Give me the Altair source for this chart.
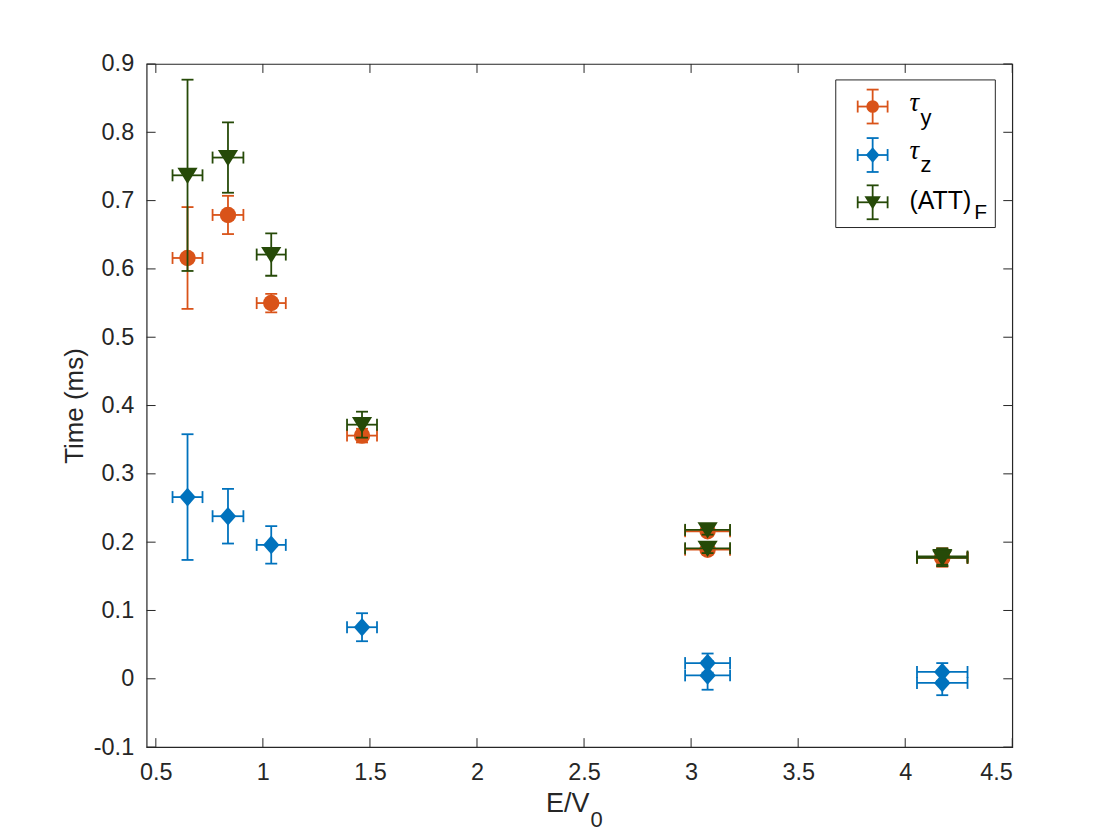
import altair as alt
import pandas as pd

# ---------------- data ----------------
x_vals = [0.648, 0.837, 1.039, 1.463, 3.077, 3.077, 4.173, 4.173]
x_err = [0.070, 0.072, 0.068, 0.070, 0.105, 0.105, 0.118, 0.118]

tau_y = [0.616, 0.679, 0.550, 0.356, 0.216, 0.189, 0.177, 0.178]
tau_y_err = [0.0745, 0.028, 0.0135, 0.010, 0.006, 0.006, 0.013, 0.013]

tau_z = [0.266, 0.238, 0.196, 0.0755, 0.023, 0.005, 0.010, -0.006]
tau_z_err = [0.092, 0.040, 0.0275, 0.0205, 0.014, 0.021, 0.013, 0.018]

att_f = [0.737, 0.763, 0.621, 0.372, 0.218, 0.191, 0.179, 0.177]
att_f_err = [0.140, 0.0515, 0.031, 0.019, 0.007, 0.007, 0.012, 0.012]

x_ticks = [0.5, 1, 1.5, 2, 2.5, 3, 3.5, 4, 4.5]
y_ticks = [-0.1, 0, 0.1, 0.2, 0.3, 0.4, 0.5, 0.6, 0.7, 0.8, 0.9]
x_domain = [0.457, 4.5]
y_domain = [-0.1, 0.9]

# ---------------- styling ----------------
W, H = 868, 685
AX = "#262626"
FONT = "Liberation Sans"
C_Y = "#D95319"
C_Z = "#0072BD"
C_F = "#264A08"
LW = 1.8
CAP = 12
DIAMOND = "M0,-1L0.88,0L0,1L-0.88,0Z"
TRI_DOWN = "M-1,-0.75L1,-0.75L0,0.85Z"


def frame(y, err):
    return pd.DataFrame({
        "x": x_vals,
        "y": y,
        "ylo": [a - b for a, b in zip(y, err)],
        "yhi": [a + b for a, b in zip(y, err)],
        "xlo": [a - b for a, b in zip(x_vals, x_err)],
        "xhi": [a + b for a, b in zip(x_vals, x_err)],
    })


xs = alt.Scale(domain=x_domain, nice=False, zero=False)
ys = alt.Scale(domain=y_domain, nice=False, zero=False)
label_expr = "datum.value < 0 ? '-' + format(-datum.value, '~g') : format(datum.value, '~g')"
xax = alt.Axis(values=x_ticks, labelExpr=label_expr, title=None, grid=False, domain=False,
               ticks=False, tickSize=0, labelPadding=13, labelFont=FONT, labelFontSize=23.5,
               labelColor=AX)
yax = alt.Axis(values=y_ticks, labelExpr=label_expr, title="Time (ms)", grid=False, domain=False,
               ticks=False, tickSize=0, labelPadding=13, labelFont=FONT, labelFontSize=23.5,
               labelColor=AX, titleFont=FONT, titleFontSize=26, titleFontWeight="normal",
               titleColor=AX, titleAngle=270, titleX=-64, titleY=H / 2, titleAlign="center",
               titleBaseline="alphabetic")


def X(f):
    return alt.X(f"{f}:Q", scale=xs, axis=xax)


def Y(f):
    return alt.Y(f"{f}:Q", scale=ys, axis=yax)


def series_layers(df, color, shape, size):
    b = alt.Chart(df)
    return [
        b.mark_rule(color=color, strokeWidth=LW).encode(x=X("x"), y=Y("ylo"), y2="yhi"),
        b.mark_rule(color=color, strokeWidth=LW).encode(y=Y("y"), x=X("xlo"), x2="xhi"),
        b.mark_tick(orient="horizontal", size=CAP, thickness=LW, color=color, opacity=1).encode(x=X("x"), y=Y("ylo")),
        b.mark_tick(orient="horizontal", size=CAP, thickness=LW, color=color, opacity=1).encode(x=X("x"), y=Y("yhi")),
        b.mark_tick(orient="vertical", size=CAP, thickness=LW, color=color, opacity=1).encode(x=X("xlo"), y=Y("y")),
        b.mark_tick(orient="vertical", size=CAP, thickness=LW, color=color, opacity=1).encode(x=X("xhi"), y=Y("y")),
        b.mark_point(shape=shape, filled=True, size=size, color=color, opacity=1).encode(x=X("x"), y=Y("y")),
    ]


one = pd.DataFrame({"k": [0]})


def legend_entry(cy, color, shape, size):
    b = alt.Chart(one)
    cx = 728
    r = dict(color=color, strokeWidth=LW)
    return [
        b.mark_rule(**r).encode(x=alt.value(cx), y=alt.value(cy - 17), y2=alt.value(cy + 17)),
        b.mark_rule(**r).encode(x=alt.value(cx - 15), x2=alt.value(cx + 15), y=alt.value(cy)),
        b.mark_rule(**r).encode(x=alt.value(cx - 6), x2=alt.value(cx + 6), y=alt.value(cy - 17)),
        b.mark_rule(**r).encode(x=alt.value(cx - 6), x2=alt.value(cx + 6), y=alt.value(cy + 17)),
        b.mark_rule(**r).encode(x=alt.value(cx - 15), y=alt.value(cy - 6), y2=alt.value(cy + 6)),
        b.mark_rule(**r).encode(x=alt.value(cx + 15), y=alt.value(cy - 6), y2=alt.value(cy + 6)),
        b.mark_point(shape=shape, filled=True, size=size, color=color, opacity=1).encode(
            x=alt.value(cx), y=alt.value(cy)),
    ]


def text(t, x, y, size, color="black", font=FONT, style="normal", align="left"):
    return alt.Chart(one).mark_text(text=t, font=font, fontSize=size, fontStyle=style, align=align,
                                    baseline="alphabetic", color=color).encode(
        x=alt.value(x), y=alt.value(y))


# inner tick marks (MATLAB style)
xt = pd.DataFrame({"t": x_ticks})
yt = pd.DataFrame({"t": y_ticks})
tick_layers = [
    alt.Chart(xt).mark_rule(color=AX, strokeWidth=1).encode(x=X("t"), y=alt.value(H), y2=alt.value(H - 9)),
    alt.Chart(xt).mark_rule(color=AX, strokeWidth=1).encode(x=X("t"), y=alt.value(0), y2=alt.value(9)),
    alt.Chart(yt).mark_rule(color=AX, strokeWidth=1).encode(y=Y("t"), x=alt.value(0), x2=alt.value(9)),
    alt.Chart(yt).mark_rule(color=AX, strokeWidth=1).encode(y=Y("t"), x=alt.value(W), x2=alt.value(W - 9)),
]

layers = tick_layers
layers += series_layers(frame(tau_y, tau_y_err), C_Y, "circle", 270)
layers += series_layers(frame(tau_z, tau_z_err), C_Z, DIAMOND, 350)
layers += series_layers(frame(att_f, att_f_err), C_F, TRI_DOWN, 410)

# legend box
layers.append(alt.Chart(one).mark_rect(fill="white", stroke=AX, strokeWidth=1).encode(
    x=alt.value(691), x2=alt.value(851), y=alt.value(16), y2=alt.value(164)))
layers += legend_entry(42.7, C_Y, "circle", 160)
layers += legend_entry(91.3, C_Z, DIAMOND, 240)
layers += legend_entry(138.7, C_F, TRI_DOWN, 270)
layers += [
    text("τ", 765, 47.5, 27, font="Liberation Serif", style="italic"),
    text("y", 776, 61, 22),
    text("τ", 765, 95.3, 27, font="Liberation Serif", style="italic"),
    text("z", 776, 108, 22),
    text("(ATT)", 765, 145.5, 25),
    text("F", 830, 155, 21),
]

# x-axis title with subscript
layers += [
    text("E/V", 444, 750.3, 27, color=AX, align="right"),
    text("0", 445, 765, 22, color=AX),
]

chart = alt.layer(*layers).properties(
    width=W, height=H,
    padding={"left": 139, "top": 55, "right": 100, "bottom": 84},
    autosize=alt.AutoSizeParams(type="none"),
).configure_view(stroke=AX, strokeWidth=1.2)

chart.save("out.html", embed_options={"renderer": "svg", "actions": False})
